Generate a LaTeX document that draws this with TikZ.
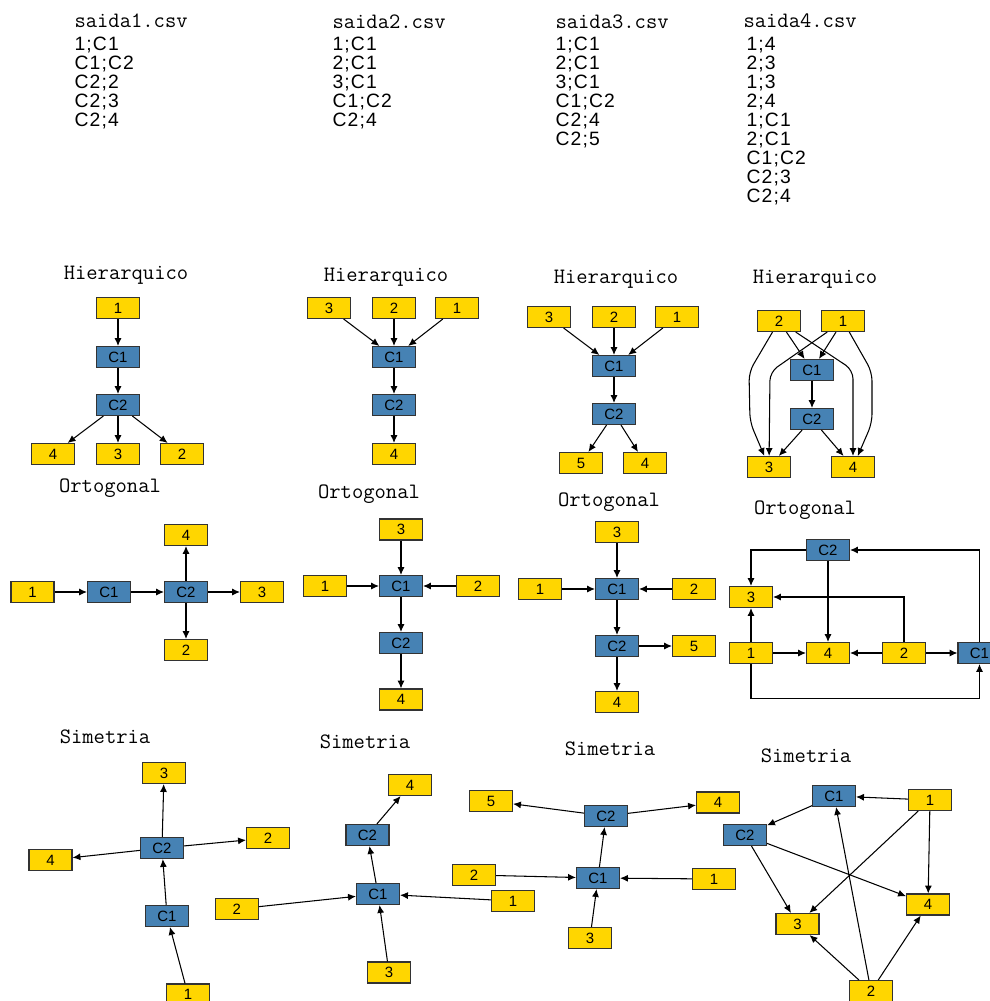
\documentclass[tikz,border=0pt]{standalone}
\usepackage{fontspec}
\setmainfont{Liberation Sans}
\newfontfamily\dados[LetterSpace=6]{Liberation Sans}
\usetikzlibrary{arrows.meta}
\definecolor{amarelo}{RGB}{255,214,0}
\definecolor{azul}{RGB}{70,130,180}

\begin{document}
\begin{tikzpicture}[x=0.02cm, y=-0.02cm, >={Latex[length=4.5pt, width=4pt]}, line width=0.6pt]
                \tikzset{
                    caixa/.style={draw=black!80, rectangle, minimum width=0.86cm, minimum height=0.42cm, inner sep=0pt, font=\fontsize{8.5}{9}\selectfont},
                    folha/.style={caixa, fill=amarelo},
                    comp/.style={caixa, fill=azul},
                    titulo/.style={font=\ttfamily\fontsize{12.5}{14}\selectfont, inner sep=0pt},
                    linha/.style={font=\dados\fontsize{11}{13}\selectfont, inner sep=0pt, anchor=base west}
                }
                \useasboundingbox (0,0) rectangle (990,1001);
                \clip (0,0) rectangle (990,1001);
                \fill[white] (0,0) rectangle (990,1001);

                % arquivos de saida
                \node[titulo, anchor=west] (arq1) at (74,21) {saida1.csv};
                \foreach \l [count=\i from 0] in {1;C1, C1;C2, C2;2, C2;3, C2;4}
                    \node[linha] (arq1l\i) at (74,50+19*\i) {\l};
                \node[titulo, anchor=west] (arq2) at (332,22) {saida2.csv};
                \foreach \l [count=\i from 0] in {1;C1, 2;C1, 3;C1, C1;C2, C2;4}
                    \node[linha] (arq2l\i) at (332,50+19*\i) {\l};
                \node[titulo, anchor=west] (arq3) at (555,22) {saida3.csv};
                \foreach \l [count=\i from 0] in {1;C1, 2;C1, 3;C1, C1;C2, C2;4, C2;5}
                    \node[linha] (arq3l\i) at (555,50+19*\i) {\l};
                \node[titulo, anchor=west] (arq4) at (743,21) {saida4.csv};
                \foreach \l [count=\i from 0] in {1;4, 2;3, 1;3, 2;4, 1;C1, 2;C1, C1;C2, C2;3, C2;4}
                    \node[linha] (arq4l\i) at (746,50+19*\i) {\l};

                % hierarquico
                \node[titulo] (tha) at (126,275) {Hierarquico};
                \node[folha] (ha1) at (118,308) {1};
                \node[comp] (hac1) at (118,357) {C1};
                \node[comp] (hac2) at (118,405) {C2};
                \node[folha] (ha4) at (53,454) {4};
                \node[folha] (ha3) at (118,454) {3};
                \node[folha] (ha2) at (182,454) {2};
                \path[->]
                    (ha1) edge (hac1)
                    (hac1) edge (hac2)
                    (hac2) edge (ha4)
                    (hac2) edge (ha3)
                    (hac2) edge (ha2);

                \node[titulo] (thb) at (386,277) {Hierarquico};
                \node[folha] (hb3) at (329,308) {3};
                \node[folha] (hb2) at (394,308) {2};
                \node[folha] (hb1) at (457,308) {1};
                \node[comp] (hbc1) at (394,357) {C1};
                \node[comp] (hbc2) at (394,405) {C2};
                \node[folha] (hb4) at (394,454) {4};
                \path[->]
                    (hb3) edge (hbc1)
                    (hb2) edge (hbc1)
                    (hb1) edge (hbc1)
                    (hbc1) edge (hbc2)
                    (hbc2) edge (hb4);

                \node[titulo] (thc) at (616,279) {Hierarquico};
                \node[folha] (hc3) at (549,317) {3};
                \node[folha] (hc2) at (614,317) {2};
                \node[folha] (hc1) at (677,317) {1};
                \node[comp] (hcc1) at (614,366) {C1};
                \node[comp] (hcc2) at (614,414) {C2};
                \node[folha] (hc5) at (581,463) {5};
                \node[folha] (hc4) at (645,463) {4};
                \path[->]
                    (hc3) edge (hcc1)
                    (hc2) edge (hcc1)
                    (hc1) edge (hcc1)
                    (hcc1) edge (hcc2)
                    (hcc2) edge (hc5)
                    (hcc2) edge (hc4);

                \node[titulo] (thd) at (815,279) {Hierarquico};
                \node[folha] (hd2) at (779,321) {2};
                \node[folha] (hd1) at (843,321) {1};
                \node[comp] (hdc1) at (812,370) {C1};
                \node[comp] (hdc2) at (812,419) {C2};
                \node[folha] (hd3) at (769,467) {3};
                \node[folha] (hd4) at (853,467) {4};
                \path[->]
                    (hd2) edge (hdc1)
                    (hd1) edge (hdc1)
                    (hdc1) edge (hdc2)
                    (hdc2) edge (hd3)
                    (hdc2) edge (hd4);
                \draw[->, rounded corners=5pt] (hd2) -- (749,372) -- (750,422) -- (hd3);
                \draw[->, rounded corners=5pt] (hd1) -- (770,372) -- (hd3);
                \draw[->, rounded corners=5pt] (hd2) -- (853,370) -- (hd4);
                \draw[->, rounded corners=5pt] (hd1) -- (872,372) -- (872,423) -- (hd4);

                % ortogonal
                \node[titulo] (toa) at (110,488) {Ortogonal};
                \node[folha] (oa1) at (32.5,592) {1};
                \node[comp] (oac1) at (109,592) {C1};
                \node[comp] (oac2) at (186,592) {C2};
                \node[folha] (oa3) at (262,592) {3};
                \node[folha] (oa4) at (186,535) {4};
                \node[folha] (oa2) at (186,650) {2};
                \path[->]
                    (oa1) edge (oac1)
                    (oac1) edge (oac2)
                    (oac2) edge (oa3)
                    (oac2) edge (oa4)
                    (oac2) edge (oa2);

                \node[titulo] (tob) at (369,494) {Ortogonal};
                \node[folha] (ob3) at (401,529.5) {3};
                \node[folha] (ob1) at (325,586) {1};
                \node[comp] (obc1) at (401,586) {C1};
                \node[folha] (ob2) at (478,586) {2};
                \node[comp] (obc2) at (401,643) {C2};
                \node[folha] (ob4) at (401,699.5) {4};
                \path[->]
                    (ob3) edge (obc1)
                    (ob1) edge (obc1)
                    (ob2) edge (obc1)
                    (obc1) edge (obc2)
                    (obc2) edge (ob4);

                \node[titulo] (toc) at (609,502) {Ortogonal};
                \node[folha] (oc3) at (617,532) {3};
                \node[folha] (oc1) at (540,589) {1};
                \node[comp] (occ1) at (617,589) {C1};
                \node[folha] (oc2) at (694,589) {2};
                \node[comp] (occ2) at (617,646) {C2};
                \node[folha] (oc5) at (694,646) {5};
                \node[folha] (oc4) at (617,702) {4};
                \path[->]
                    (oc3) edge (occ1)
                    (oc1) edge (occ1)
                    (oc2) edge (occ1)
                    (occ1) edge (occ2)
                    (occ2) edge (oc5)
                    (occ2) edge (oc4);

                \node[titulo] (tod) at (805,510) {Ortogonal};
                \node[comp] (odc2) at (828,550) {C2};
                \node[folha] (od3) at (751,597) {3};
                \node[folha] (od1) at (751,653) {1};
                \node[folha] (od4) at (828,653) {4};
                \node[folha] (od2) at (904,653) {2};
                \node[comp] (odc1) at (979.5,653) {C1};
                \path[->]
                    (odc2) edge (od4)
                    (od1) edge (od3)
                    (od1) edge (od4)
                    (od2) edge (od4)
                    (od2) edge (odc1);
                \draw[->] (odc2.west) -| (od3.north);
                \draw[->] (od2.north) |- (od3.east);
                \draw[->] (odc1.north) |- (odc2.east);
                \draw[->] (od1.south) -- ++(0,34) -| (odc1.south);

                % simetria
                \node[titulo] (tsa) at (105,737) {Simetria};
                \node[folha] (sa3) at (164,773) {3};
                \node[comp] (sac2) at (162,848) {C2};
                \node[folha] (sa2) at (268,838) {2};
                \node[folha] (sa4) at (50.5,860) {4};
                \node[comp] (sac1) at (167,916) {C1};
                \node[folha] (sa1) at (188,994.5) {1};
                \path[->]
                    (sac2) edge (sa3)
                    (sac2) edge (sa2)
                    (sac2) edge (sa4)
                    (sac1) edge (sac2)
                    (sa1) edge (sac1);

                \node[titulo] (tsb) at (365,742) {Simetria};
                \node[folha] (sb4) at (410,785) {4};
                \node[comp] (sbc2) at (367.5,835) {C2};
                \node[comp] (sbc1) at (378,894) {C1};
                \node[folha] (sb2) at (236.7,909) {2};
                \node[folha] (sb1) at (513,901) {1};
                \node[folha] (sb3) at (389,972.5) {3};
                \path[->]
                    (sbc2) edge (sb4)
                    (sbc1) edge (sbc2)
                    (sb2) edge (sbc1)
                    (sb1) edge (sbc1)
                    (sb3) edge (sbc1);

                \node[titulo] (tsc) at (610,749) {Simetria};
                \node[folha] (sc5) at (491,801) {5};
                \node[comp] (scc2) at (606,816) {C2};
                \node[folha] (sc4) at (718,802.5) {4};
                \node[folha] (sc2) at (474,875) {2};
                \node[comp] (scc1) at (598,878) {C1};
                \node[folha] (sc1) at (714,879) {1};
                \node[folha] (sc3) at (590,938) {3};
                \path[->]
                    (scc2) edge (sc5)
                    (scc2) edge (sc4)
                    (scc1) edge (scc2)
                    (sc2) edge (scc1)
                    (sc1) edge (scc1)
                    (sc3) edge (scc1);

                \node[titulo] (tsd) at (806,756) {Simetria};
                \node[comp] (sdc1) at (834,796) {C1};
                \node[folha] (sd1) at (930,800) {1};
                \node[comp] (sdc2) at (745,835) {C2};
                \node[folha] (sd4) at (928,904.5) {4};
                \node[folha] (sd3) at (797.5,924) {3};
                \node[folha] (sd2) at (871,991) {2};
                \path[->]
                    (sd1) edge (sdc1)
                    (sdc1) edge (sdc2)
                    (sd1) edge (sd4)
                    (sd1) edge (sd3)
                    (sdc2) edge (sd3)
                    (sdc2) edge (sd4)
                    (sd2) edge (sdc1)
                    (sd2) edge (sd3)
                    (sd2) edge (sd4);

            \end{tikzpicture}
\end{document}
